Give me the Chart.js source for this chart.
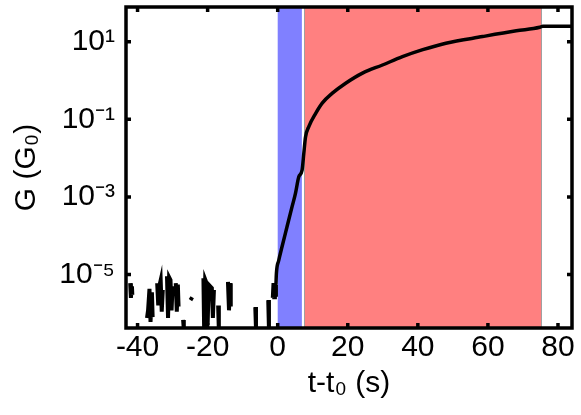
<!DOCTYPE html>
<html><head><meta charset="utf-8">
<script src="https://cdn.jsdelivr.net/npm/chart.js@4"></script>
<style>html,body{margin:0;padding:0;background:#fff}canvas{display:block}</style>
</head><body>
<canvas id="c" width="581" height="415"></canvas>
<script>
// ---- data ----
const xTickValues = [-40, -20, 0, 20, 40, 60, 80];
const yTickValues = [1e1, 1e-1, 1e-3, 1e-5];
const yTickLabels = ['10¹', '10⁻¹', '10⁻³', '10⁻⁵'];
const xRange = [-43.3, 84];
const yRange = [4.2e-7, 78];
const blueBand = [0, 6.9];
const redBand = [7.5, 75.4];
// pre-rise noise (null = gap between clusters)
const noiseT = [-42.1, -41.9, -41.6, -41.5, -40,
  -37.3, -37.0, -36.6, -36.3, -35.9, -35.7, -35,
  -34.4, -34.1, -33.8, -33.4, -33.1, -32.8, -32.3,
  -31.6, -31.3, -31.0, -30.6, -30.3, -30.0, -29.5,
  -29.1, -28.8, -28.5, -28.3, -28,
  -27.0, -26.8, -26,
  -24.9, -24.4, -23,
  -21.2, -21.0, -20.7, -20.3, -20.0, -19.7, -18.8, -18.5, -18.2, -17.5,
  -17.0, -16.8, -15,
  -14.2, -13.9, -13.6, -13.4, -10,
  -6.4, -6.2, -4,
  -2.7, -2.5, -2,
  -1.4, -1.2, -1.0, -0.8, -0.6, -0.5];
const noiseG = [6.0e-6, 2.5e-6, 5.0e-6, 3.0e-6, null,
  7.6e-7, 1.2e-6, 4.3e-6, 6.0e-7, 3.5e-6, 8.0e-7, null,
  6.0e-6, 1.6e-6, 5.0e-6, 7.2e-6, 1.1e-6, 4.0e-6, null,
  9.1e-6, 7.6e-7, 8.5e-6, 7.2e-6, 1.2e-6, 5.0e-6, null,
  6.0e-6, 1.1e-6, 5.5e-6, 1.5e-6, null,
  6.8e-7, 4.0e-7, null,
  2.2e-6, 2.6e-6, null,
  8.1e-6, 4.0e-7, 7.5e-6, 6.0e-6, 5.0e-7, 5.5e-6, 4.5e-6, 7.6e-7, 4.0e-6, null,
  1.6e-6, 3.7e-7, null,
  6.5e-6, 1.2e-6, 6.0e-6, 1.5e-6, null,
  1.45e-6, 4.0e-7, null,
  2.2e-6, 4.0e-7, null,
  2.5e-6, 6.0e-6, 2.6e-6, 6.0e-6, 3.0e-6, 5.5e-6];
// conductance rise
const riseT = [-0.5, -0.37, 0.29, 1.23, 2.66, 4.10, 5.07, 6.02, 6.96, 7.45, 7.94, 8.88,
  10.8, 12.7, 15.6, 19.4, 24.2, 29.9, 35.6, 41.4, 48.0, 58.5, 68.1, 74.8, 75.7, 84];
const riseG = [5.5e-6, 1.07e-5, 2.3e-5, 5.2e-5, 1.7e-4, 5.6e-4, 1.23e-3, 3.3e-3, 4.9e-3, 1.32e-2, 3.5e-2, 6.5e-2,
  0.14, 0.26, 0.47, 0.85, 1.55, 2.5, 4.1, 6.2, 9.1, 13.5, 19, 23.4, 25, 25];

const FONT = 'Liberation Sans, Arial, Helvetica, sans-serif';

const bandPlugin = {
  id: 'bands',
  beforeDatasetsDraw(chart) {
    const {ctx, chartArea: a, scales: {x}} = chart;
    ctx.save();
    const b0 = x.getPixelForValue(blueBand[0]), b1 = x.getPixelForValue(blueBand[1]);
    ctx.fillStyle = '#8080ff';
    ctx.fillRect(b0, a.top, b1 - b0, a.bottom - a.top);
    const r0 = x.getPixelForValue(redBand[0]), r1 = x.getPixelForValue(redBand[1]);
    ctx.fillStyle = '#ff8080';
    ctx.fillRect(r0, a.top, r1 - r0, a.bottom - a.top);
    ctx.strokeStyle = '#a0a0a0';
    ctx.lineWidth = 1;
    ctx.beginPath();
    ctx.moveTo(Math.round(r0) + 0.5, a.top); ctx.lineTo(Math.round(r0) + 0.5, a.bottom);
    ctx.moveTo(Math.round(r1) - 0.5, a.top); ctx.lineTo(Math.round(r1) - 0.5, a.bottom);
    ctx.stroke();
    ctx.restore();
  }
};

const framePlugin = {
  id: 'frame',
  afterDraw(chart) {
    const {ctx, chartArea: a, scales: {x, y}} = chart;
    ctx.save();
    ctx.strokeStyle = '#000';
    ctx.lineWidth = 3.5;
    const L = 5;
    ctx.beginPath();
    x.ticks.forEach(t => {
      const px = x.getPixelForValue(t.value);
      ctx.moveTo(px, a.bottom); ctx.lineTo(px, a.bottom - L);
      ctx.moveTo(px, a.top); ctx.lineTo(px, a.top + L);
    });
    y.ticks.forEach(t => {
      const py = y.getPixelForValue(t.value);
      ctx.moveTo(a.left, py); ctx.lineTo(a.left + L, py);
      ctx.moveTo(a.right, py); ctx.lineTo(a.right - L, py);
    });
    ctx.stroke();
    ctx.beginPath();
    ctx.rect(a.left, a.top, a.right - a.left, a.bottom - a.top);
    ctx.stroke();
    ctx.restore();
  }
};

const noiseData = noiseT.map((t, i) => ({x: t, y: noiseG[i]}));
const riseData = riseT.map((t, i) => ({x: t, y: riseG[i]}));

new Chart(document.getElementById('c'), {
  type: 'line',
  data: {
    datasets: [
      {data: noiseData, borderColor: '#000', borderWidth: 4, pointRadius: 0, spanGaps: false, tension: 0},
      {data: riseData, borderColor: '#000', borderWidth: 3.5, pointRadius: 0, cubicInterpolationMode: 'monotone'}
    ]
  },
  options: {
    responsive: false,
    devicePixelRatio: 1,
    animation: false,
    layout: {padding: {top: 7, right: 9, left: 0, bottom: 0}},
    plugins: {legend: {display: false}, tooltip: {enabled: false}},
    scales: {
      x: {
        type: 'linear', min: xRange[0], max: xRange[1],
        grid: {display: false, drawTicks: false},
        border: {display: false},
        afterBuildTicks(s) { s.ticks = xTickValues.map(v => ({value: v})); },
        afterFit(s) { s.height = 87; s.paddingLeft = 0; s.paddingRight = 0; },
        ticks: {color: '#000', font: {family: FONT, size: 30}, padding: 2, maxRotation: 0, autoSkip: false},
        title: {display: true, text: 't-t₀ (s)', color: '#000', font: {family: FONT, size: 30, lineHeight: 1.2}, padding: {top: 0, bottom: 13}}
      },
      y: {
        type: 'logarithmic', min: yRange[0], max: yRange[1],
        grid: {display: false, drawTicks: false},
        border: {display: false},
        afterBuildTicks(s) { s.ticks = yTickValues.map(v => ({value: v})); },
        afterFit(s) { s.width = 126; s.paddingTop = 0; s.paddingBottom = 0; },
        ticks: {color: '#000', font: {family: FONT, size: 30}, padding: 11, autoSkip: false,
          callback: (v, i) => yTickLabels[i]},
        title: {display: true, text: 'G (G₀)', color: '#000', font: {family: FONT, size: 30, lineHeight: 1.2}, padding: {top: 9, bottom: 0}}
      }
    }
  },
  plugins: [bandPlugin, framePlugin]
});
</script>
</body></html>
